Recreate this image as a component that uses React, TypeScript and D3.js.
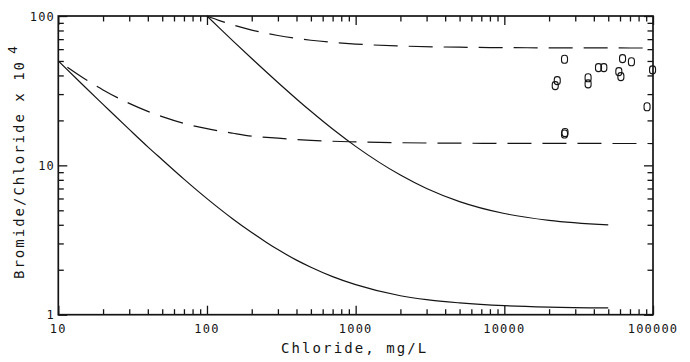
import React, { useEffect, useRef } from 'react';
import * as d3 from 'd3';

const clFromTen = [10, 15, 20, 30, 40, 50, 70, 100, 150, 200, 250, 300, 400, 500, 700, 1000, 2000, 3000, 5000, 10000, 20000, 50000];
const lowSolid = [50, 33.7, 25.6, 17.4, 13.3, 10.9, 8.09, 5.99, 4.36, 3.55, 3.06, 2.73, 2.32, 2.08, 1.8, 1.59, 1.34, 1.26, 1.2, 1.15, 1.125, 1.11];

const clDashLow = [10, 15, 20, 30, 40, 50, 70, 100, 150, 200, 300, 500, 700, 1000, 2000, 5000, 10000, 20000, 50000, 100000];
const lowDashed = [50, 38, 32, 26, 23, 21.2, 19.1, 17.6, 16.4, 15.7, 15.2, 14.7, 14.5, 14.36, 14.18, 14.07, 14.04, 14.02, 14.01, 14.0];

const clFromHundred = [100, 120, 150, 200, 300, 500, 700, 1000, 2000, 3000, 5000, 10000, 20000, 50000];
const highSolid = [100, 84, 67.9, 51.9, 35.9, 23, 17.5, 13.4, 8.61, 7.0, 5.72, 4.76, 4.28, 3.99];

const clDashHigh = [100, 120, 150, 200, 300, 500, 700, 1000, 2000, 5000, 10000, 20000, 50000, 100000];
const highDashed = [100, 93.5, 87, 80.5, 74, 68.8, 66.6, 64.9, 63, 61.8, 61.4, 61.2, 61.1, 61.05];

// samples
const sampleCl = [25400, 22700, 22000, 36600, 36600, 43000, 46700, 62400, 71600, 58900, 60800, 99300, 91200, 25600, 25400];
const sampleRatio = [51.3, 36.9, 34.2, 38.6, 35.1, 45.1, 45.1, 51.8, 49.4, 42.4, 39.3, 43.6, 24.7, 16.6, 16.2];

const xTickLabels = ['10', '100', '1000', '10000', '100000'];
const yTickLabels = ['1', '10', '100'];

const W = 690;
const H = 362;
const INK = '#141414';
const FONT = '"DejaVu Sans Mono", monospace';

const App: React.FC = () => {
  const svgRef = useRef<SVGSVGElement>(null);

  useEffect(() => {
    if (!svgRef.current) return;
    const svg = d3.select(svgRef.current);
    svg.selectAll('*').remove();

    const left = 58.3, right = 653, top = 16, bottom = 314.7;

    const x = d3.scaleLog().domain([10, 100000]).range([left, right]);
    const y = d3.scaleLog().domain([1, 100]).range([bottom, top]);

    const majorX = xTickLabels.map(Number);
    const majorY = yTickLabels.map(Number);
    const minorX: number[] = [];
    majorX.slice(0, -1).forEach(m => { for (let k = 2; k <= 9; k++) minorX.push(m * k); });
    const minorY: number[] = [];
    majorY.slice(0, -1).forEach(m => { for (let k = 2; k <= 9; k++) minorY.push(m * k); });

    const styleAxis = (g: d3.Selection<SVGGElement, unknown, null, undefined>) => {
      g.select('.domain').remove();
      g.selectAll('line').attr('stroke', INK).attr('stroke-width', 1.3);
    };

    // inward ticks on all four sides
    const axes: [any, string][] = [
      [d3.axisBottom(x), `translate(0,${bottom})`],
      [d3.axisTop(x), `translate(0,${top})`],
    ];
    axes.forEach(([ax, tr]) => {
      svg.append('g').attr('transform', tr)
        .call(ax.tickValues(minorX).tickSize(-5.5).tickSizeOuter(0).tickFormat(() => ''))
        .call(styleAxis);
      svg.append('g').attr('transform', tr)
        .call(ax.tickValues(majorX).tickSize(-9).tickSizeOuter(0).tickFormat(() => ''))
        .call(styleAxis);
    });
    const yAxes: [any, string][] = [
      [d3.axisLeft(y), `translate(${left},0)`],
      [d3.axisRight(y), `translate(${right},0)`],
    ];
    yAxes.forEach(([ax, tr]) => {
      svg.append('g').attr('transform', tr)
        .call(ax.tickValues(minorY).tickSize(-5.5).tickSizeOuter(0).tickFormat(() => ''))
        .call(styleAxis);
      svg.append('g').attr('transform', tr)
        .call(ax.tickValues(majorY).tickSize(-9).tickSizeOuter(0).tickFormat(() => ''))
        .call(styleAxis);
    });

    // frame
    svg.append('rect')
      .attr('x', left).attr('y', top)
      .attr('width', right - left).attr('height', bottom - top)
      .attr('fill', 'none').attr('stroke', INK).attr('stroke-width', 1.7);

    // tick labels
    svg.append('g').selectAll('text').data(majorX).join('text')
      .attr('x', d => x(d)).attr('y', 333)
      .attr('text-anchor', 'middle')
      .attr('font-family', FONT).attr('font-size', 12).attr('letter-spacing', 1.2)
      .attr('fill', INK)
      .text((d, i) => xTickLabels[i]);

    svg.append('g').selectAll('text').data(majorY).join('text')
      .attr('x', 55).attr('y', d => y(d) + 4.5)
      .attr('text-anchor', 'end')
      .attr('font-family', FONT).attr('font-size', 12).attr('letter-spacing', 1.2)
      .attr('fill', INK)
      .text((d, i) => yTickLabels[i]);

    // axis titles
    svg.append('text')
      .attr('x', 281).attr('y', 353)
      .attr('font-family', FONT).attr('font-size', 14).attr('letter-spacing', 2.1)
      .attr('fill', INK)
      .text('Chloride, mg/L');

    const yt = svg.append('text')
      .attr('transform', 'translate(23.5,279) rotate(-90)')
      .attr('font-family', FONT).attr('font-size', 14).attr('letter-spacing', 2)
      .attr('fill', INK);
    yt.append('tspan').text('Bromide/Chloride x 10');
    yt.append('tspan').attr('dx', 6).attr('dy', -7).attr('font-size', 13).text('4');

    // curves
    const line = d3.line<[number, number]>()
      .x(d => x(d[0]))
      .y(d => y(d[1]))
      .curve(d3.curveMonotoneX);

    const curves: { cl: number[]; v: number[]; dash: string | null; offset: number }[] = [
      { cl: clFromTen, v: lowSolid, dash: null, offset: 0 },
      { cl: clFromHundred, v: highSolid, dash: null, offset: 0 },
      { cl: clDashLow, v: lowDashed, dash: '24,11', offset: 24 },
      { cl: clDashHigh, v: highDashed, dash: '24,11', offset: 5 },
    ];
    curves.forEach(c => {
      const path = svg.append('path')
        .datum(c.cl.map((d, i) => [d, c.v[i]] as [number, number]))
        .attr('d', line)
        .attr('fill', 'none')
        .attr('stroke', INK)
        .attr('stroke-width', 1.2);
      if (c.dash) path.attr('stroke-dasharray', c.dash).attr('stroke-dashoffset', c.offset);
    });

    // sample markers, drawn like plotter "O" glyphs
    svg.append('g').selectAll('rect')
      .data(sampleCl.map((d, i) => [d, sampleRatio[i]]))
      .join('rect')
      .attr('x', d => x(d[0]) - 3)
      .attr('y', d => y(d[1]) - 4)
      .attr('width', 6)
      .attr('height', 8)
      .attr('rx', 2.8)
      .attr('fill', 'none')
      .attr('stroke', INK)
      .attr('stroke-width', 1.1);
  }, []);

  return (
    <svg
      ref={svgRef}
      width={W}
      height={H}
      viewBox={`0 0 ${W} ${H}`}
      style={{ position: 'absolute', left: 0, top: 0, background: '#fff' }}
    />
  );
};

export default App;
